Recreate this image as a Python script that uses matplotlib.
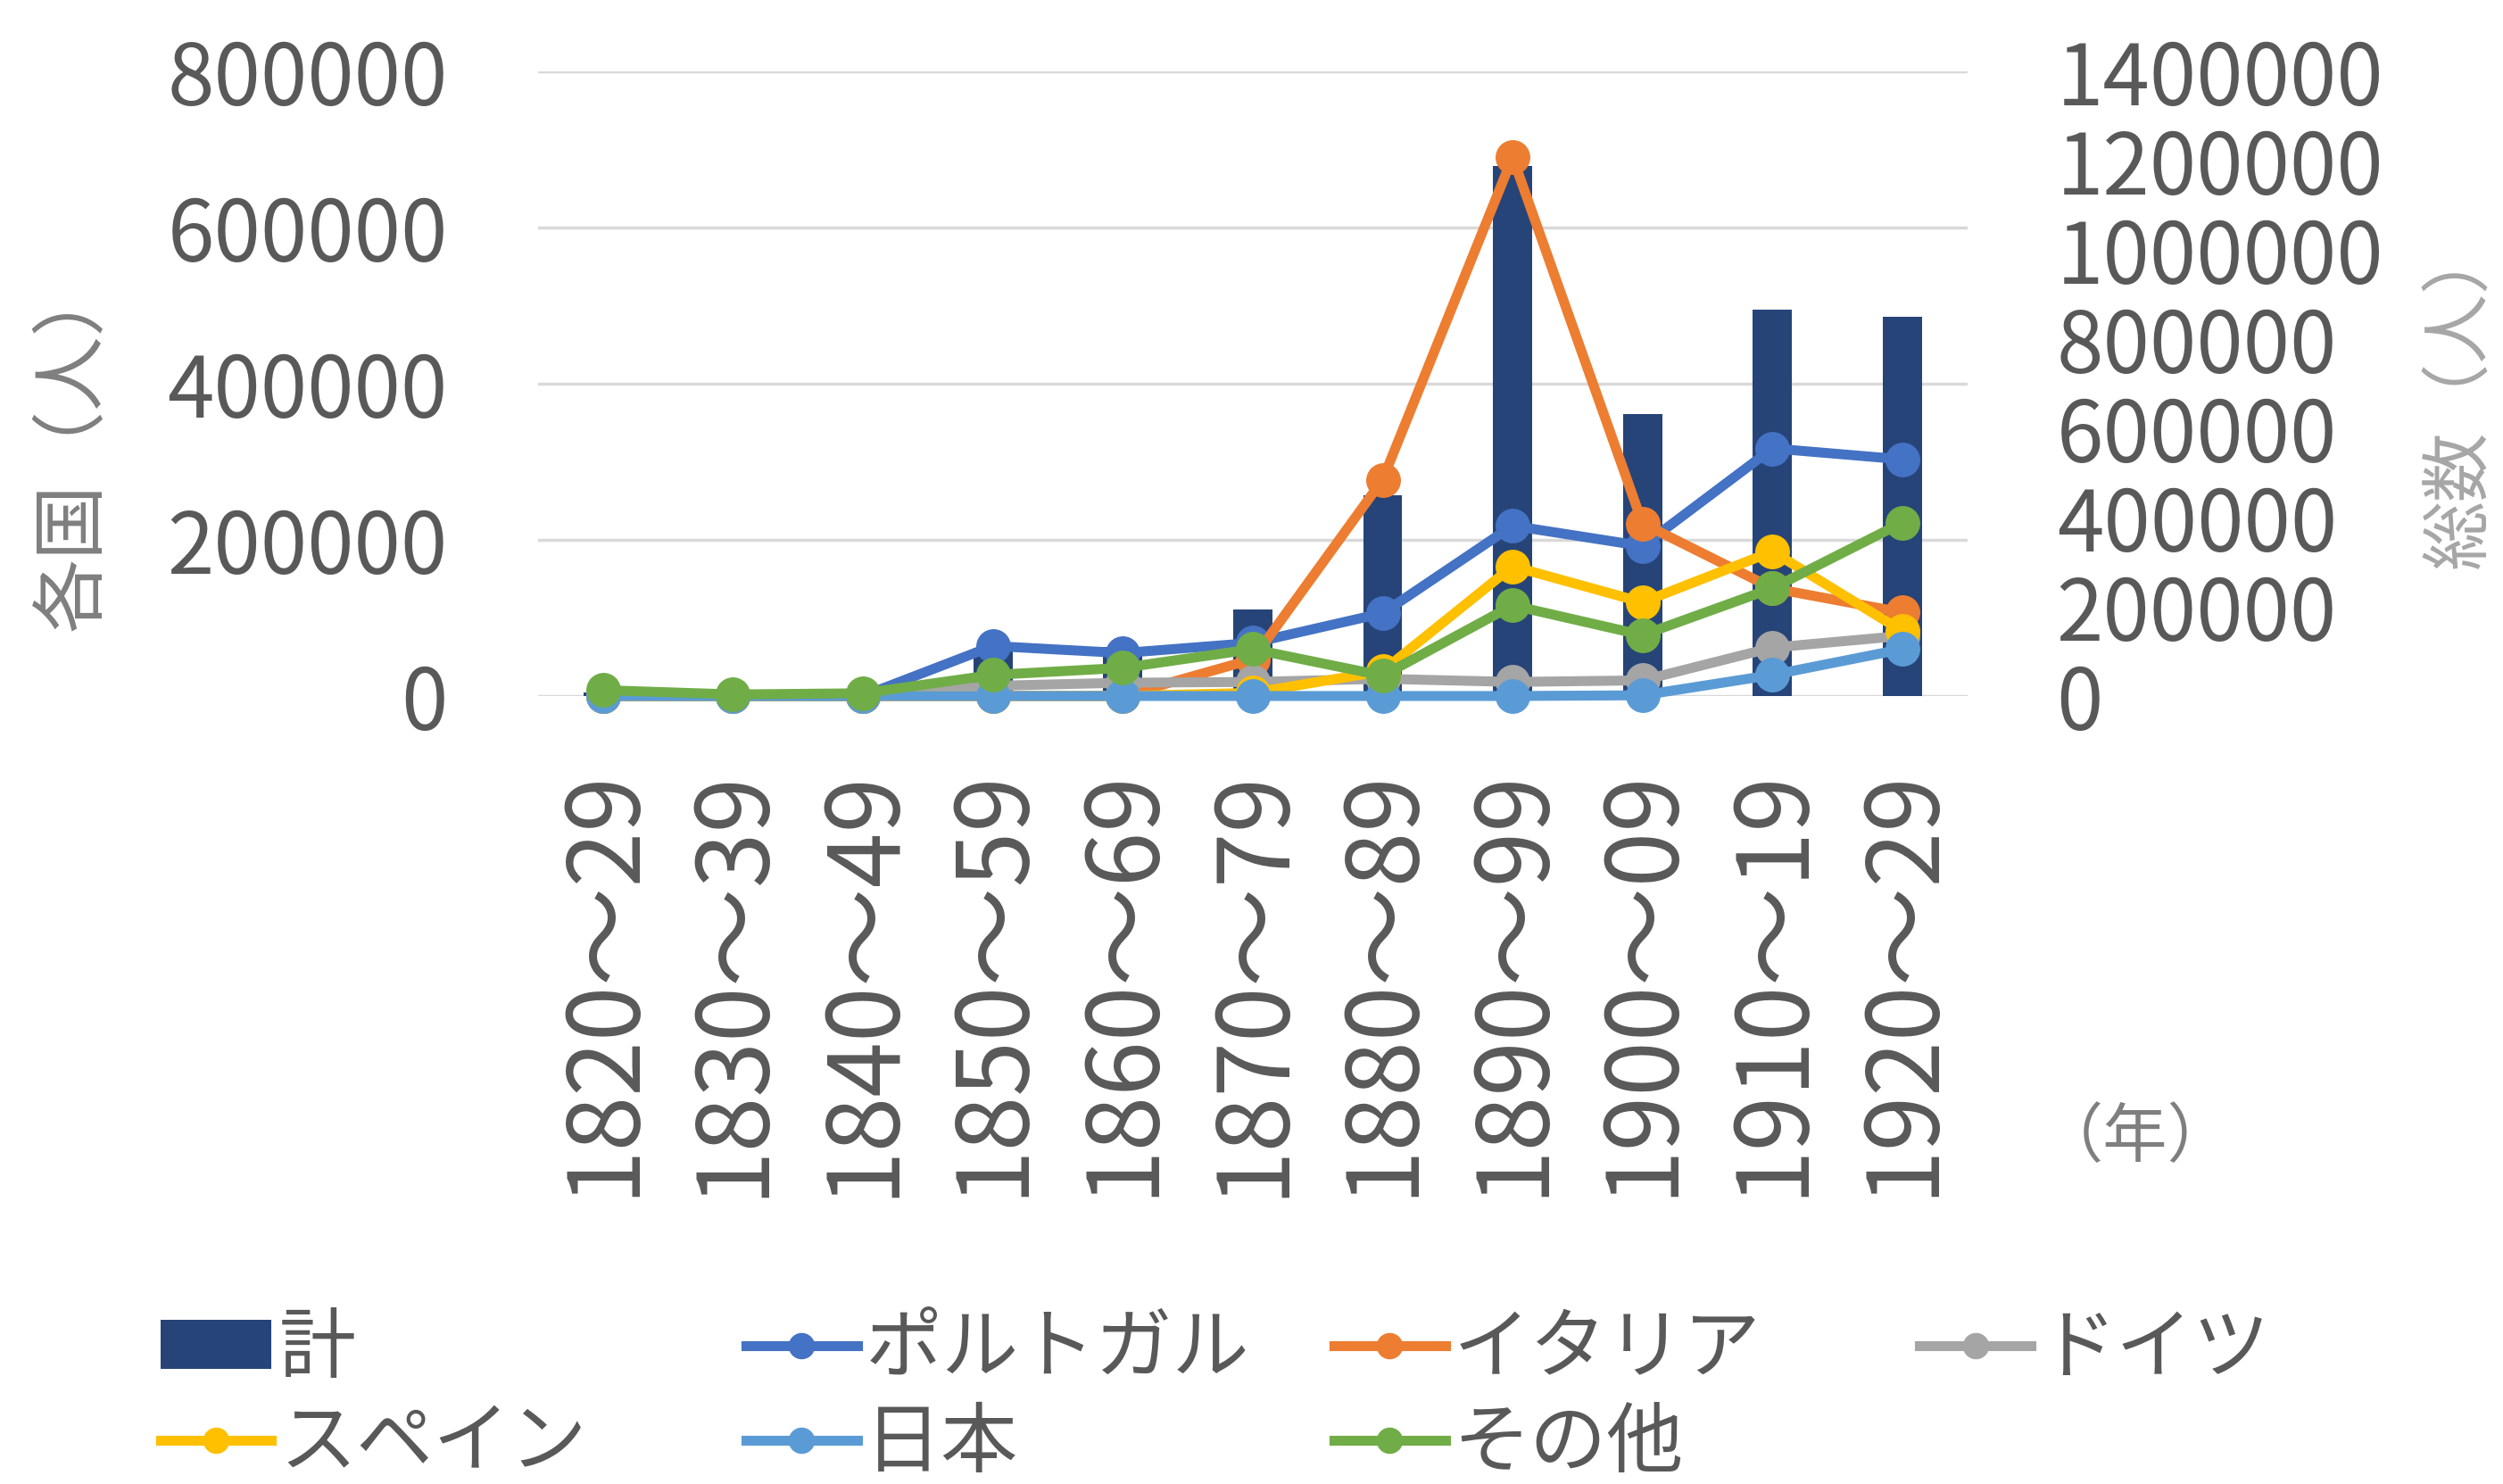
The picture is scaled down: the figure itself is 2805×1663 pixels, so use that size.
import matplotlib
matplotlib.use("Agg")
import matplotlib.pyplot as plt

plt.rcParams['font.family'] = ['Noto Sans CJK JP', 'DejaVu Sans']

decades = ["1820～29", "1830～39", "1840～49", "1850～59", "1860～69", "1870～79",
           "1880～89", "1890～99", "1900～09", "1910～19", "1920～29"]

total = [7000, 2000, 5000, 108000, 110000, 194000, 449000, 1188000, 632000, 866000, 849000]
portugal = [0, 0, 0, 64000, 55000, 68000, 106000, 218000, 192000, 317000, 303000]
italy = [0, 0, 0, 0, 0, 47000, 277000, 690000, 221000, 138000, 107000]
germany = [0, 0, 0, 13000, 17000, 18000, 22000, 18000, 20000, 62000, 77000]
spain = [0, 0, 0, 0, 0, 4000, 32000, 166000, 120000, 185000, 83000]
japan = [0, 0, 0, 0, 0, 0, 0, 0, 900, 27000, 60000]
others = [7500, 2000, 3500, 27000, 36000, 60000, 26000, 116000, 78000, 138000, 222000]

left_ticks = [0, 200000, 400000, 600000, 800000]
right_ticks = [0, 200000, 400000, 600000, 800000, 1000000, 1200000, 1400000]

series = [
    ("ポルトガル", portugal, "#4472C4"),
    ("イタリア", italy, "#ED7D31"),
    ("ドイツ", germany, "#A5A5A5"),
    ("スペイン", spain, "#FFC000"),
    ("日本", japan, "#5B9BD5"),
    ("その他", others, "#70AD47"),
]

fig = plt.figure(figsize=(28.05, 16.63), dpi=100)
ax = fig.add_axes([0.215, 0.531, 0.571, 0.421])
axb = ax.twinx()
axl = ax.twinx()

x = list(range(len(decades)))

# gridlines on base axes, bars above them, lines above bars
ax.set_ylim(0, 800000)
ax.set_yticks(left_ticks)
ax.set_yticklabels([str(v) for v in left_ticks])
ax.grid(axis='y', color='#D9D9D9', linewidth=2.5)
ax.set_xlim(-0.5, len(decades) - 0.5)
ax.set_xticks(x)
ax.set_xticklabels(decades, rotation=90)
ax.tick_params(axis='y', length=0, pad=73, labelsize=68, labelcolor='#595959')
ax.tick_params(axis='x', length=0, pad=58, labelsize=80, labelcolor='#595959')

bars = axb.bar(x, total, width=0.3, color="#264478", label="計")
axb.set_ylim(0, 1400000)
axb.set_yticks(right_ticks)
axb.set_yticklabels([str(v) for v in right_ticks])
axb.tick_params(axis='y', length=0, pad=72, labelsize=68, labelcolor='#595959')

lines = {}
for name, vals, col in series:
    ln, = axl.plot(x, vals, color=col, linewidth=8, marker='o', markersize=27,
                   label=name, clip_on=False)
    lines[name] = ln
axl.set_ylim(0, 800000)
axl.yaxis.set_visible(False)

for a in (ax, axb, axl):
    for s in a.spines.values():
        s.set_visible(False)

fig.text(0.029, 0.70, "各国（人）", rotation=90, ha='center', va='center',
         fontsize=60, color='#7F7F7F')
fig.text(0.983, 0.734, "総数（人）", rotation=90, ha='center', va='center',
         fontsize=56, color='#A6A6A6')
fig.text(0.853, 0.233, "（年）", ha='center', va='center', fontsize=52, color='#7F7F7F')

columns = [
    ([bars, lines["スペイン"]], ["計", "スペイン"], 0.064),
    ([lines["ポルトガル"], lines["日本"]], ["ポルトガル", "日本"], 0.298),
    ([lines["イタリア"], lines["その他"]], ["イタリア", "その他"], 0.533),
    ([lines["ドイツ"]], ["ドイツ"], 0.767),
]
for hs, ls, xpos in columns:
    fig.legend(hs, ls, loc='upper left', bbox_to_anchor=(xpos, 0.117),
               frameon=False, fontsize=62, labelcolor='#595959',
               handlelength=1.45, handleheight=0.6, handletextpad=0.1,
               labelspacing=0.2, borderpad=0, borderaxespad=0, markerscale=0.75)

fig.savefig("out.png", dpi=100)
